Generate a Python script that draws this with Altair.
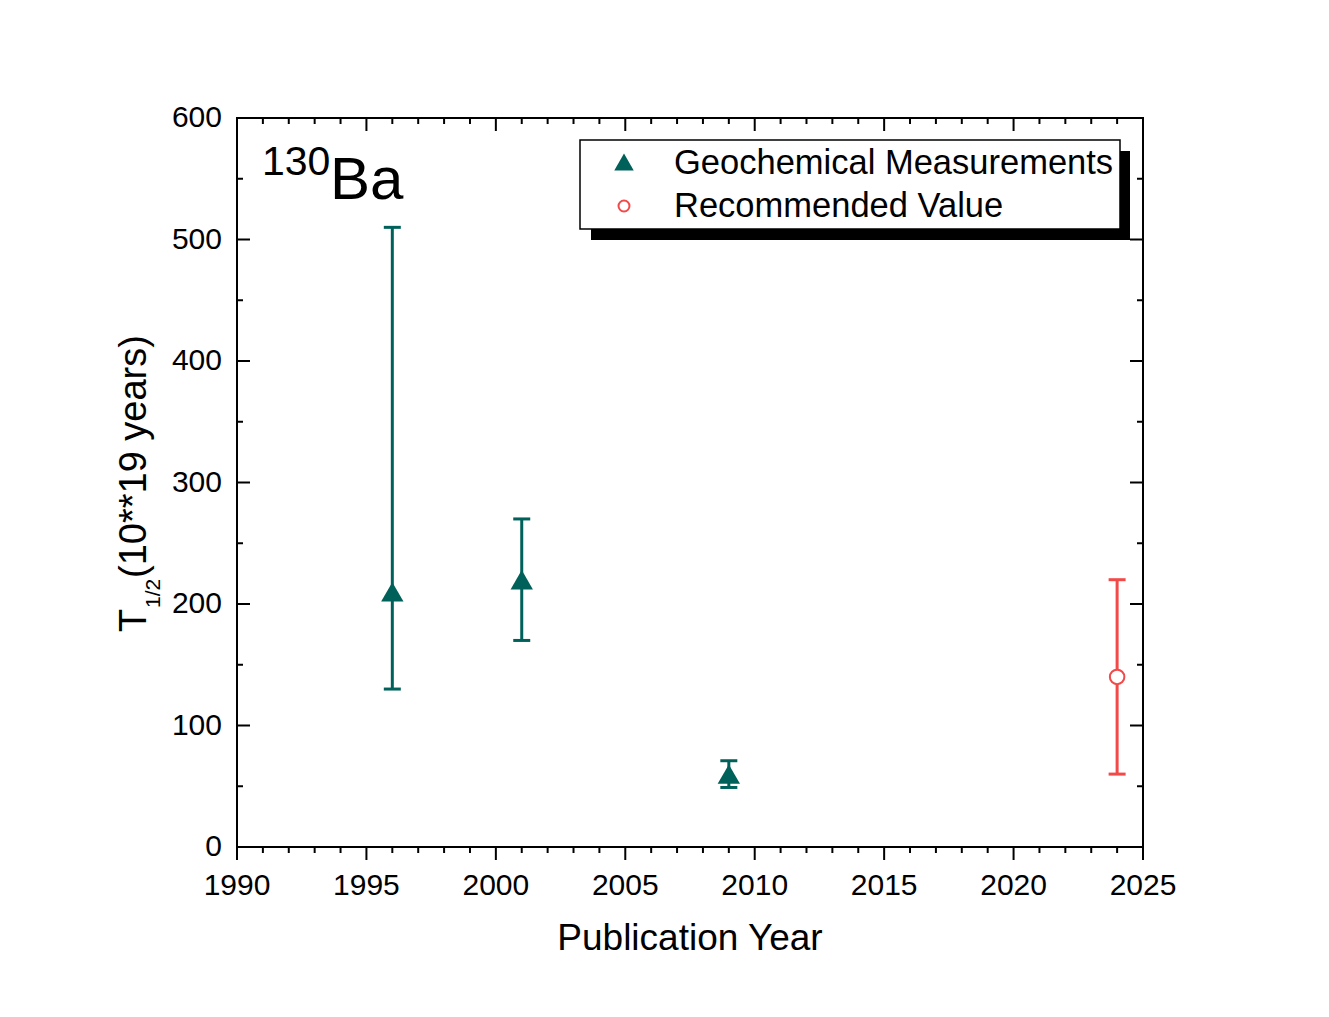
import altair as alt
import pandas as pd

# ---- data ----
geo_year = [1996, 2001, 2009]
geo_val = [210, 220, 60]
geo_lo = [130, 170, 49]
geo_hi = [510, 270, 71]

rec_year = [2024]
rec_val = [140]
rec_lo = [60]
rec_hi = [220]

x_major = [1990, 1995, 2000, 2005, 2010, 2015, 2020, 2025]
x_minor = [y for y in range(1990, 2026) if y % 5 != 0]
y_major = [0, 100, 200, 300, 400, 500, 600]
y_minor = [50, 150, 250, 350, 450, 550]

TEAL = "#00605A"
RED = "#F24949"
FONT = "Liberation Sans"
W, H = 906, 729

geo = pd.DataFrame({"year": geo_year, "val": geo_val, "lo": geo_lo, "hi": geo_hi})
rec = pd.DataFrame({"year": rec_year, "val": rec_val, "lo": rec_lo, "hi": rec_hi})
xmaj = pd.DataFrame({"v": x_major, "label": [str(v) for v in x_major]})
xmin = pd.DataFrame({"v": x_minor})
ymaj = pd.DataFrame({"v": y_major, "label": [str(v) for v in y_major]})
ymin = pd.DataFrame({"v": y_minor})
one = pd.DataFrame({"k": [0]})

xs = alt.Scale(domain=[1990, 2025], nice=False, zero=False)
ys = alt.Scale(domain=[0, 600], nice=False, zero=False)


def X(f):
    return alt.X(f, type="quantitative", scale=xs, axis=None)


def Y(f):
    return alt.Y(f, type="quantitative", scale=ys, axis=None)


layers = []

# ---- ticks ----
tick = dict(color="black", strokeWidth=2)
# bottom (outward)
layers.append(alt.Chart(xmaj).mark_rule(**tick).encode(x=X("v"), y=alt.value(H), y2=alt.value(H + 13)))
layers.append(alt.Chart(xmin).mark_rule(**tick).encode(x=X("v"), y=alt.value(H), y2=alt.value(H + 6)))
# top (inward)
layers.append(alt.Chart(xmaj).mark_rule(**tick).encode(x=X("v"), y=alt.value(0), y2=alt.value(13)))
layers.append(alt.Chart(xmin).mark_rule(**tick).encode(x=X("v"), y=alt.value(0), y2=alt.value(6)))
# left (inward)
layers.append(alt.Chart(ymaj).mark_rule(**tick).encode(y=Y("v"), x=alt.value(0), x2=alt.value(13)))
layers.append(alt.Chart(ymin).mark_rule(**tick).encode(y=Y("v"), x=alt.value(0), x2=alt.value(6)))
# right (inward)
layers.append(alt.Chart(ymaj).mark_rule(**tick).encode(y=Y("v"), x=alt.value(W - 13), x2=alt.value(W)))
layers.append(alt.Chart(ymin).mark_rule(**tick).encode(y=Y("v"), x=alt.value(W - 6), x2=alt.value(W)))

# ---- tick labels ----
layers.append(
    alt.Chart(xmaj)
    .mark_text(font=FONT, fontSize=30, align="center", baseline="alphabetic", color="black")
    .encode(x=X("v"), y=alt.value(H + 48), text="label:N")
)
layers.append(
    alt.Chart(ymaj)
    .mark_text(font=FONT, fontSize=30, align="right", baseline="middle", color="black")
    .encode(y=Y("v"), x=alt.value(-15), text="label:N")
)

# ---- axis titles ----
layers.append(
    alt.Chart(one)
    .mark_text(text="Publication Year", font=FONT, fontSize=37, align="center", baseline="alphabetic", color="black")
    .encode(x=alt.value(W / 2), y=alt.value(832))
)
layers.append(
    alt.Chart(one)
    .mark_text(text="T", font=FONT, fontSize=38, angle=270, align="left", baseline="alphabetic", color="black")
    .encode(x=alt.value(-91), y=alt.value(514))
)
layers.append(
    alt.Chart(one)
    .mark_text(text="1/2", font=FONT, fontSize=21, angle=270, align="left", baseline="alphabetic", color="black")
    .encode(x=alt.value(-77), y=alt.value(490))
)
layers.append(
    alt.Chart(one)
    .mark_text(text="(10**19 years)", font=FONT, fontSize=38, angle=270, align="left", baseline="alphabetic", color="black")
    .encode(x=alt.value(-91), y=alt.value(460))
)

# ---- 130Ba label ----
layers.append(
    alt.Chart(one)
    .mark_text(text="130", font=FONT, fontSize=41, align="left", baseline="alphabetic", color="black")
    .encode(x=alt.value(25), y=alt.value(57))
)
layers.append(
    alt.Chart(one)
    .mark_text(text="Ba", font=FONT, fontSize=60, align="left", baseline="alphabetic", color="black")
    .encode(x=alt.value(93), y=alt.value(81))
)

# ---- data: geochemical ----
layers.append(alt.Chart(geo).mark_rule(color=TEAL, strokeWidth=3).encode(x=X("year"), y=Y("lo"), y2="hi"))
layers.append(
    alt.Chart(geo).mark_tick(color=TEAL, thickness=3, size=17, orient="horizontal", opacity=1)
    .encode(x=X("year"), y=Y("lo"))
)
layers.append(
    alt.Chart(geo).mark_tick(color=TEAL, thickness=3, size=17, orient="horizontal", opacity=1)
    .encode(x=X("year"), y=Y("hi"))
)
layers.append(
    alt.Chart(geo).mark_point(shape="triangle-up", filled=True, size=500, color=TEAL, opacity=1)
    .encode(x=X("year"), y=Y("val"))
)

# ---- data: recommended ----
layers.append(alt.Chart(rec).mark_rule(color=RED, strokeWidth=3).encode(x=X("year"), y=Y("lo"), y2="hi"))
layers.append(
    alt.Chart(rec).mark_tick(color=RED, thickness=3, size=17, orient="horizontal", opacity=1)
    .encode(x=X("year"), y=Y("lo"))
)
layers.append(
    alt.Chart(rec).mark_tick(color=RED, thickness=3, size=17, orient="horizontal", opacity=1)
    .encode(x=X("year"), y=Y("hi"))
)
layers.append(
    alt.Chart(rec).mark_point(shape="circle", filled=True, fill="white", stroke=RED, strokeWidth=2, size=210, opacity=1)
    .encode(x=X("year"), y=Y("val"))
)

# ---- legend with drop shadow ----
layers.append(
    alt.Chart(one).mark_rect(color="black")
    .encode(x=alt.value(354), x2=alt.value(893), y=alt.value(33), y2=alt.value(122))
)
layers.append(
    alt.Chart(one).mark_rect(fill="white", stroke="black", strokeWidth=1.5)
    .encode(x=alt.value(343), x2=alt.value(883), y=alt.value(22), y2=alt.value(111))
)
layers.append(
    alt.Chart(one).mark_point(shape="triangle-up", filled=True, size=380, color=TEAL, opacity=1)
    .encode(x=alt.value(387), y=alt.value(44))
)
layers.append(
    alt.Chart(one).mark_point(shape="circle", filled=True, fill="white", stroke=RED, strokeWidth=2, size=120, opacity=1)
    .encode(x=alt.value(387), y=alt.value(88))
)
layers.append(
    alt.Chart(one)
    .mark_text(text="Geochemical Measurements", font=FONT, fontSize=34.5, align="left", baseline="middle", color="black")
    .encode(x=alt.value(437), y=alt.value(46))
)
layers.append(
    alt.Chart(one)
    .mark_text(text="Recommended Value", font=FONT, fontSize=34.5, align="left", baseline="middle", color="black")
    .encode(x=alt.value(437), y=alt.value(89))
)

chart = (
    alt.layer(*layers)
    .properties(
        width=W,
        height=H,
        autosize=alt.AutoSizeParams(type="none"),
        padding={"left": 229, "top": 110, "right": 150, "bottom": 120},
        background="white",
    )
    .configure_view(stroke="black", strokeWidth=2)
)

chart.save("out.html", embed_options={"renderer": "svg", "actions": False})
